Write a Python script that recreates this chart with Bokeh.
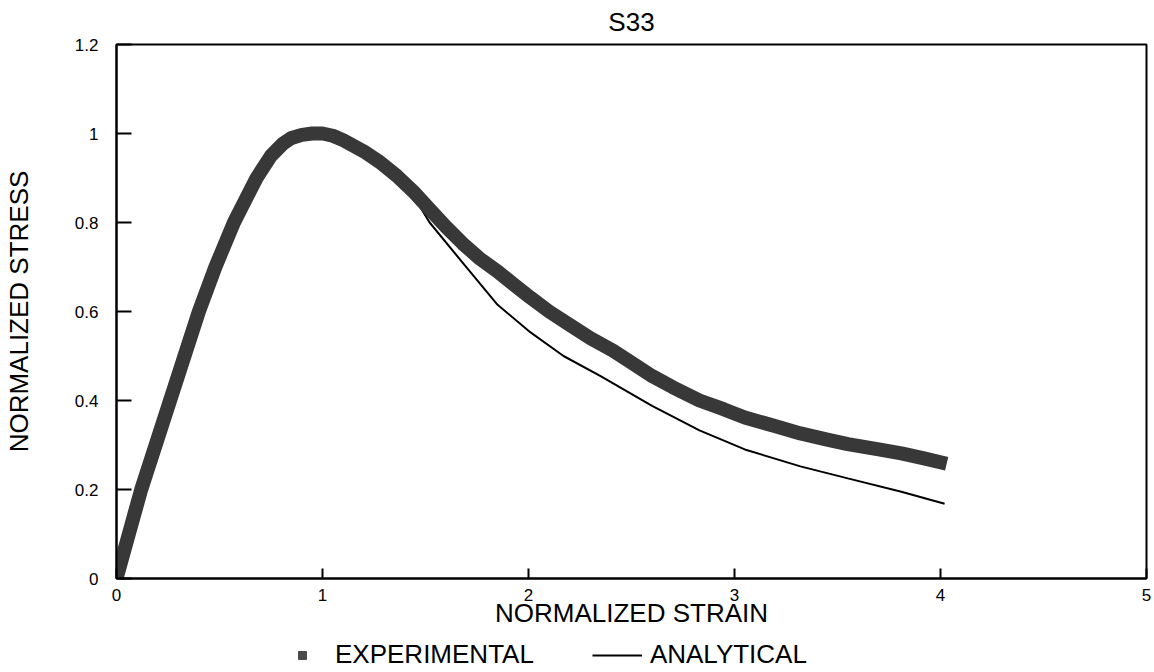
from bokeh.plotting import figure
from bokeh.models import FixedTicker, Legend, LegendItem, Range1d
from bokeh.layouts import column
from bokeh.embed import file_html
from bokeh.resources import INLINE

# ---- data ----
exp_strain = [0.0, 0.06, 0.12, 0.19, 0.26, 0.33, 0.40, 0.48, 0.57, 0.68, 0.75, 0.81,
              0.85, 0.90, 0.95, 1.00, 1.05, 1.10, 1.20, 1.28, 1.36, 1.44, 1.52, 1.60,
              1.68, 1.76, 1.85, 1.93, 2.01, 2.10, 2.20, 2.30, 2.41, 2.50, 2.60, 2.70,
              2.83, 2.95, 3.05, 3.20, 3.32, 3.45, 3.55, 3.70, 3.81, 3.92, 4.03]
exp_stress = [0.0, 0.10, 0.20, 0.30, 0.40, 0.50, 0.60, 0.70, 0.80, 0.90, 0.95, 0.978,
              0.99, 0.997, 1.00, 1.00, 0.995, 0.985, 0.96, 0.935, 0.905, 0.87, 0.83, 0.79,
              0.753, 0.72, 0.69, 0.66, 0.631, 0.60, 0.57, 0.54, 0.512, 0.485, 0.455, 0.43,
              0.40, 0.38, 0.362, 0.342, 0.326, 0.312, 0.302, 0.29, 0.281, 0.27, 0.258]

ana_strain = [0.0, 0.06, 0.12, 0.19, 0.26, 0.33, 0.40, 0.48, 0.57, 0.68, 0.75, 0.81,
              0.90, 1.00, 1.10, 1.20, 1.30, 1.41, 1.52, 1.685, 1.85, 2.01, 2.17, 2.35,
              2.60, 2.83, 3.05, 3.32, 3.55, 3.81, 4.02]
ana_stress = [0.0, 0.10, 0.20, 0.30, 0.40, 0.50, 0.60, 0.70, 0.80, 0.90, 0.95, 0.978,
              0.997, 1.00, 0.985, 0.955, 0.925, 0.883, 0.80, 0.707, 0.615, 0.553, 0.50, 0.455,
              0.388, 0.333, 0.29, 0.252, 0.225, 0.195, 0.168]

x_ticks = [0, 1, 2, 3, 4, 5]
x_tick_labels = ["0", "1", "2", "3", "4", "5"]
y_ticks = [0, 0.2, 0.4, 0.6, 0.8, 1, 1.2]
y_tick_labels = ["0", "0.2", "0.4", "0.6", "0.8", "1", "1.2"]

title_text = "S33"
x_title = "NORMALIZED STRAIN"
y_title = "NORMALIZED STRESS"
series_names = ["EXPERIMENTAL", "ANALYTICAL"]

FONT = "Liberation Sans"
BAND = "#383838"

p = figure(width=1154, height=634, output_backend="svg", toolbar_location=None,
           x_range=Range1d(0, 5), y_range=Range1d(0, 1.2),
           min_border_left=116, min_border_right=8, min_border_top=44,
           min_border_bottom=56, background_fill_color="white",
           border_fill_color="white")

p.grid.visible = False
p.outline_line_color = "black"
p.outline_line_width = 2

# title
p.title.text = title_text
p.title.align = "center"
p.title.vertical_align = "top"
p.title.text_font = FONT
p.title.text_font_size = "26px"
p.title.text_font_style = "normal"
p.title.text_color = "black"
p.title.text_line_height = 0.8
p.title.standoff = 12

# axes
for ax, ticks, labels, tin in ((p.xaxis[0], x_ticks, x_tick_labels, 10),
                               (p.yaxis[0], y_ticks, y_tick_labels, 15)):
    ax.ticker = FixedTicker(ticks=ticks)
    ax.major_label_overrides = {t: l for t, l in zip(ticks, labels)}
    ax.major_tick_in = tin
    ax.major_tick_out = 0
    ax.minor_tick_line_color = None
    ax.major_tick_line_width = 2
    ax.major_tick_line_color = "black"
    ax.axis_line_color = "black"
    ax.axis_line_width = 2
    ax.major_label_text_font = FONT
    ax.major_label_text_font_size = "17px"
    ax.major_label_text_color = "black"
    ax.axis_label_text_font = FONT
    ax.axis_label_text_font_size = "26px"
    ax.axis_label_text_font_style = "normal"
    ax.axis_label_text_color = "black"

p.xaxis.axis_label = x_title
p.xaxis.major_label_standoff = 10
p.xaxis.axis_label_standoff = -6
p.yaxis.axis_label = y_title
p.yaxis.major_label_standoff = 18
p.yaxis.axis_label_standoff = 38

# data
p.line(ana_strain, ana_stress, line_color="black", line_width=2)
p.line(exp_strain, exp_stress, line_color=BAND, line_width=14, line_join="round")
p.scatter(exp_strain[:1], exp_stress[:1], marker="square", size=13,
          fill_color=BAND, line_color=BAND)

# legend strip below the plot
lg = figure(width=1154, height=38, output_backend="svg", toolbar_location=None,
            x_range=Range1d(10, 11), y_range=Range1d(10, 11),
            x_axis_type=None, y_axis_type=None, min_border=0,
            outline_line_color=None, background_fill_color="white",
            border_fill_color="white")
lg.grid.visible = False
exp_key = lg.scatter(exp_strain[:1], exp_stress[:1], marker="square", size=11,
                     fill_color="#4a4a4a", line_color="#4a4a4a")
ana_key = lg.line(ana_strain[:2], ana_stress[:2], line_color="black", line_width=2)

legend = Legend(items=[LegendItem(label=series_names[0], renderers=[exp_key]),
                       LegendItem(label=series_names[1], renderers=[ana_key])],
                orientation="horizontal", location=(161, 2),
                padding=0, margin=0, spacing=58, label_standoff=8,
                glyph_width=50, glyph_height=20,
                border_line_color=None, background_fill_alpha=0,
                label_text_font=FONT, label_text_font_size="26px",
                label_text_baseline="alphabetic", label_text_color="black")
lg.add_layout(legend, "center")

layout = column(p, lg, spacing=0)
open("out.html", "w").write(file_html(layout, INLINE))
